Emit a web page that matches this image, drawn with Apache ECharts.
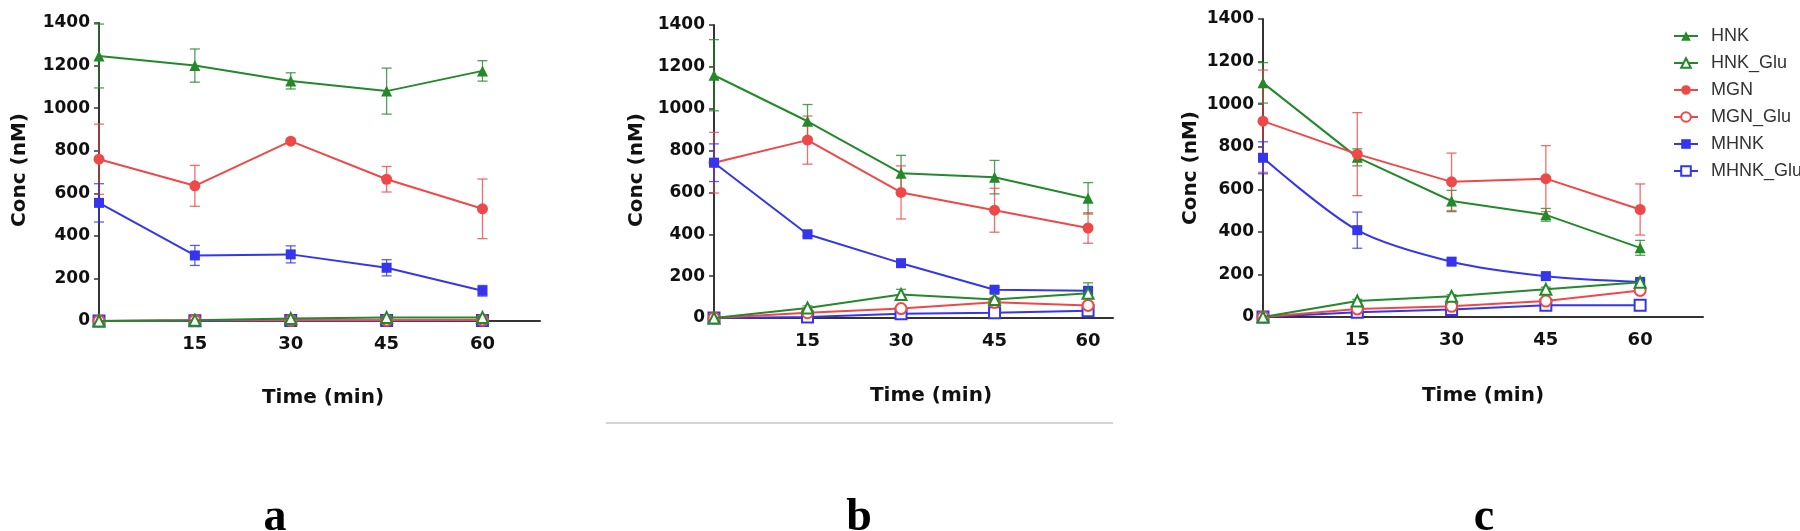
<!DOCTYPE html>
<html>
<head>
<meta charset="utf-8">
<script src="https://cdn.jsdelivr.net/npm/echarts@6/dist/echarts.min.js"></script>
<style>html,body{margin:0;padding:0;background:#fff;}#c{width:1800px;height:531px;}</style>
</head>
<body>
<div id="c"></div>
<script>
// ---- data ----
const times = [0, 15, 30, 45, 60];
const xTickLabels = ['15', '30', '45', '60'];
const seriesNames = ['HNK', 'HNK_Glu', 'MGN', 'MGN_Glu', 'MHNK', 'MHNK_Glu'];
const panelLetters = ['a', 'b', 'c'];

// panel a
const aHNK = [1245, 1200, 1128, 1080, 1175];
const aHNKErr = [150, 78, 38, 108, 48];
const aHNKGlu = [0, 4, 12, 17, 17];
const aHNKGluErr = [0, 2, 3, 3, 3];
const aMGN = [760, 635, 845, 666, 527];
const aMGNErr = [165, 96, 10, 60, 140];
const aMGNGlu = [0, 3, 3, 4, 5];
const aMGNGluErr = [0, 1, 1, 1, 1];
const aMHNK = [555, 308, 313, 250, 142];
const aMHNKErr = [90, 47, 40, 38, 25];
const aMHNKGlu = [0, 1, 2, 2, 2];
const aMHNKGluErr = [0, 1, 1, 1, 1];

// panel b
const bHNK = [1160, 940, 692, 673, 572];
const bHNKErr = [170, 80, 85, 80, 75];
const bHNKGlu = [0, 48, 112, 88, 118];
const bHNKGluErr = [0, 10, 25, 10, 50];
const bMGN = [742, 850, 600, 515, 430];
const bMGNErr = [145, 115, 127, 105, 73];
const bMGNGlu = [0, 25, 45, 75, 60];
const bMGNGluErr = [0, 5, 8, 8, 8];
const bMHNK = [742, 400, 262, 135, 130];
const bMHNKErr = [90, 10, 12, 12, 15];
const bMHNKGlu = [0, 5, 20, 25, 35];
const bMHNKGluErr = [0, 2, 3, 3, 5];

// panel c
const cHNK = [1100, 750, 545, 480, 325];
const cHNKErr = [95, 40, 50, 30, 35];
const cHNKGlu = [0, 75, 97, 130, 163];
const cHNKGluErr = [0, 8, 8, 10, 10];
const cMGN = [920, 765, 635, 650, 505];
const cMGNErr = [240, 195, 135, 155, 120];
const cMGNGlu = [0, 38, 50, 75, 125];
const cMGNGluErr = [0, 5, 5, 8, 10];
const cMHNK = [748, 408, 260, 192, 165];
const cMHNKErr = [75, 85, 15, 10, 10];
const cMHNKGlu = [0, 22, 35, 55, 55];
const cMHNKGluErr = [0, 3, 3, 5, 5];

const yMax = 1400, yInterval = 200;
const xMaxes = [69, 64, 70];

// ---- style ----
const GREEN = '#23892a', RED = '#ef4848', BLUE = '#3535ee';
const styleOf = {
  HNK: {color: GREEN, symbol: 'triangle', size: 11, z: 4},
  HNK_Glu: {color: GREEN, symbol: 'emptyTriangle', size: 11, z: 7},
  MGN: {color: RED, symbol: 'circle', size: 11, z: 4},
  MGN_Glu: {color: RED, symbol: 'emptyCircle', size: 11, z: 6},
  MHNK: {color: BLUE, symbol: 'rect', size: 10, z: 4},
  MHNK_Glu: {color: BLUE, symbol: 'emptyRect', size: 11, z: 5}
};
const panels = [
  {HNK: [aHNK, aHNKErr], HNK_Glu: [aHNKGlu, aHNKGluErr], MGN: [aMGN, aMGNErr], MGN_Glu: [aMGNGlu, aMGNGluErr], MHNK: [aMHNK, aMHNKErr], MHNK_Glu: [aMHNKGlu, aMHNKGluErr]},
  {HNK: [bHNK, bHNKErr], HNK_Glu: [bHNKGlu, bHNKGluErr], MGN: [bMGN, bMGNErr], MGN_Glu: [bMGNGlu, bMGNGluErr], MHNK: [bMHNK, bMHNKErr], MHNK_Glu: [bMHNKGlu, bMHNKGluErr]},
  {HNK: [cHNK, cHNKErr], HNK_Glu: [cHNKGlu, cHNKGluErr], MGN: [cMGN, cMGNErr], MGN_Glu: [cMGNGlu, cMGNGluErr], MHNK: [cMHNK, cMHNKErr], MHNK_Glu: [cMHNKGlu, cMHNKGluErr]}
];
const grids = [
  {left: 99, top: 23, width: 441, height: 298},
  {left: 714, top: 25, width: 399, height: 293},
  {left: 1263, top: 19, width: 440, height: 298}
];
const yTitlePos = [[20, 170], [637, 170], [1191, 168]];
const xTitlePos = [[323, 398], [931, 396], [1483, 396]];
const letterPos = [[275, 518], [859, 518], [1484, 518]];

const AXIS = '#333333';
const FONT = 'DejaVu Sans';
const xAxes = [], yAxes = [], series = [], graphics = [];

grids.forEach((g, i) => {
  xAxes.push({
    type: 'value', gridIndex: i, min: 0, max: xMaxes[i], interval: 15,
    axisLine: {show: true, onZero: false, lineStyle: {color: AXIS, width: 2}},
    axisTick: {show: false},
    splitLine: {show: false},
    axisLabel: {
      margin: 14, color: '#111', fontFamily: FONT, fontWeight: 'bold', fontSize: 18,
      formatter: v => xTickLabels.indexOf(String(v)) >= 0 ? String(v) : ''
    }
  });
  yAxes.push({
    type: 'value', gridIndex: i, min: 0, max: yMax, interval: yInterval,
    axisLine: {show: true, lineStyle: {color: AXIS, width: 2}},
    axisTick: {show: true, length: 5, lineStyle: {color: AXIS, width: 1.5}},
    splitLine: {show: false},
    axisLabel: {margin: 9, color: '#111', fontFamily: FONT, fontWeight: 'bold', fontSize: 17,
      formatter: v => String(v)}
  });
  const pd = panels[i];
  seriesNames.forEach(name => {
    const st = styleOf[name];
    const vals = pd[name][0], errs = pd[name][1];
    series.push({
      type: 'custom', name: name + ' SD', xAxisIndex: i, yAxisIndex: i, z: 2, silent: true,
      data: times.map((t, k) => [t, vals[k], errs[k]]),
      encode: {x: 0, y: 1},
      renderItem: function (params, api) {
        const x = api.value(0), y = api.value(1), e = api.value(2);
        if (!e) return null;
        const top = api.coord([x, y + e]), bot = api.coord([x, y - e]);
        const w = 5;
        const ls = {stroke: st.color, lineWidth: 1.3, opacity: 0.8};
        return {type: 'group', children: [
          {type: 'line', shape: {x1: top[0], y1: top[1], x2: bot[0], y2: bot[1]}, style: ls},
          {type: 'line', shape: {x1: top[0] - w, y1: top[1], x2: top[0] + w, y2: top[1]}, style: ls},
          {type: 'line', shape: {x1: bot[0] - w, y1: bot[1], x2: bot[0] + w, y2: bot[1]}, style: ls}
        ]};
      }
    });
    series.push({
      type: 'line', name: name, xAxisIndex: i, yAxisIndex: i, z: st.z,
      data: times.map((t, k) => [t, vals[k]]),
      symbol: st.symbol, symbolSize: st.size, showAllSymbol: true,
      smooth: (i === 2 && name === 'MHNK') ? 0.3 : false,
      lineStyle: {color: st.color, width: 2},
      itemStyle: {color: st.color, borderColor: st.color, borderWidth: st.symbol.indexOf('empty') === 0 ? 2 : 0},
      emphasis: {disabled: true}
    });
  });
  graphics.push({
    type: 'text', x: yTitlePos[i][0], y: yTitlePos[i][1], rotation: Math.PI / 2,
    style: {text: 'Conc (nM)', font: 'bold 20px "DejaVu Sans"', fill: '#111', align: 'center', verticalAlign: 'middle'}
  });
  graphics.push({
    type: 'text', x: xTitlePos[i][0], y: xTitlePos[i][1],
    style: {text: 'Time (min)', font: 'bold 20px "DejaVu Sans"', fill: '#111', align: 'center', verticalAlign: 'middle'}
  });
  graphics.push({
    type: 'text', x: letterPos[i][0], y: letterPos[i][1],
    style: {text: panelLetters[i], font: 'bold 46px "Liberation Serif"', fill: '#000', align: 'center', verticalAlign: 'middle'}
  });
});
graphics.push({type: 'line', shape: {x1: 606, y1: 423, x2: 1113, y2: 423}, style: {stroke: '#d4d4d4', lineWidth: 2}});

const chart = echarts.init(document.getElementById('c'), null, {renderer: 'canvas'});
chart.setOption({
  animation: false,
  backgroundColor: '#fff',
  grid: grids,
  xAxis: xAxes,
  yAxis: yAxes,
  series: series,
  graphic: graphics,
  legend: {
    orient: 'vertical', left: 1668, top: 22,
    data: seriesNames,
    itemWidth: 24, itemHeight: 12, itemGap: 9,
    textStyle: {fontFamily: 'Liberation Sans', fontSize: 18, color: '#333', padding: [0, 0, 0, 8]}
  }
});
</script>
</body>
</html>
